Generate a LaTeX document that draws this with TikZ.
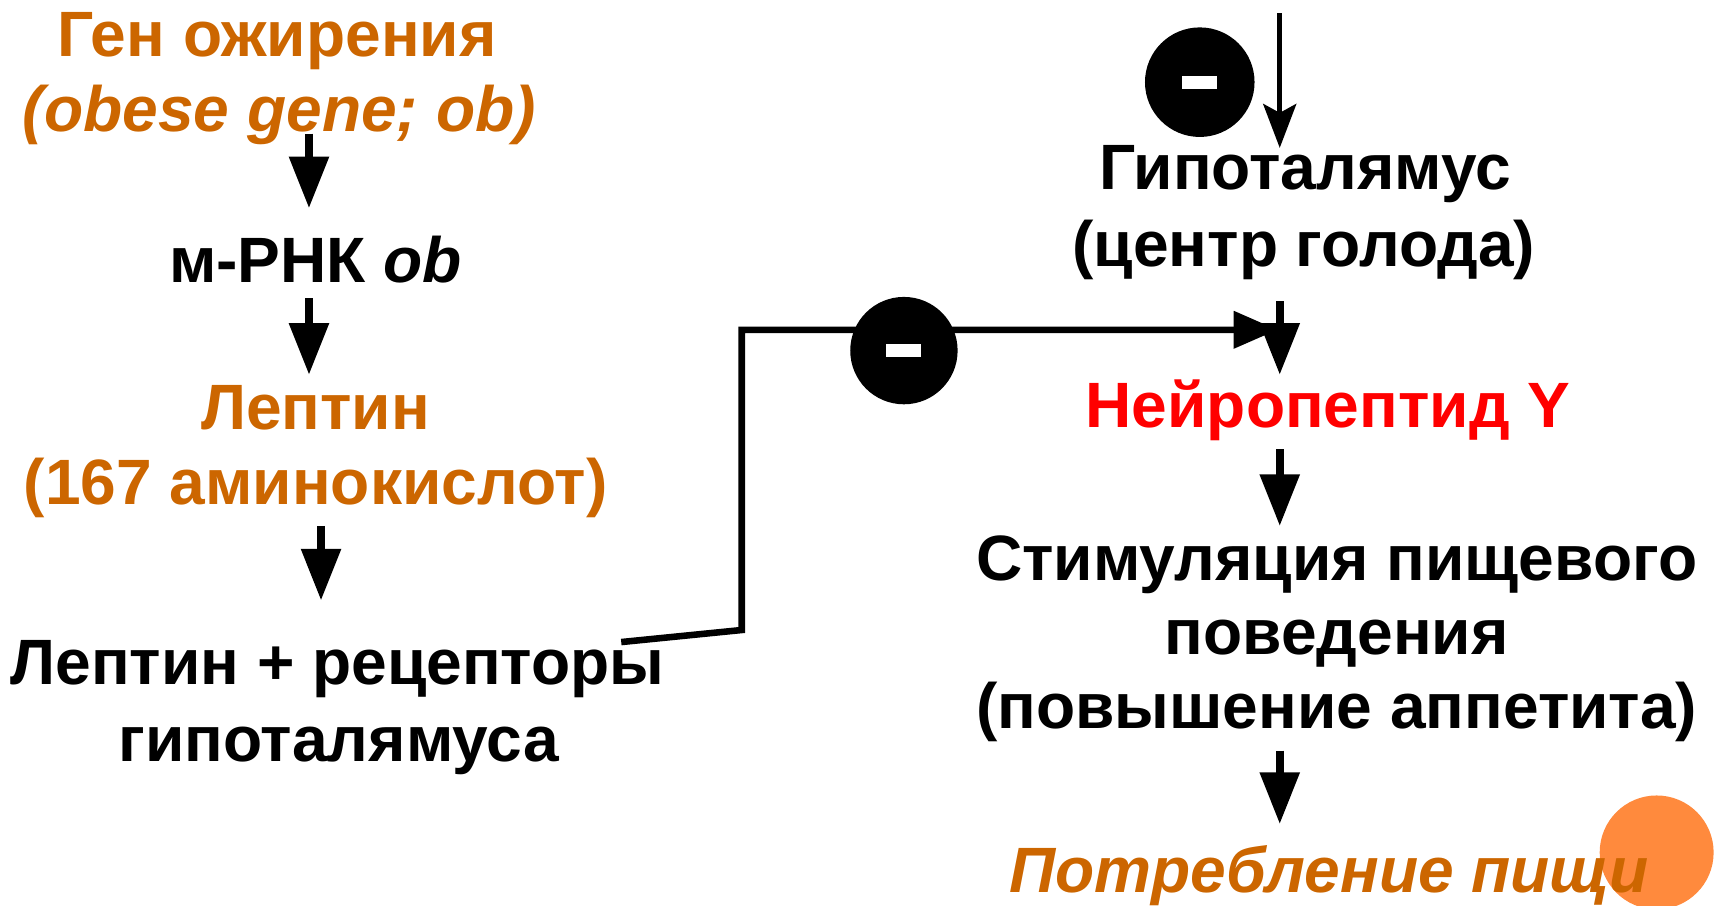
\documentclass[tikz,border=0pt]{standalone}
\usepackage{fontspec}
\setmainfont{Liberation Sans}
\usetikzlibrary{arrows.meta}
\definecolor{obor}{HTML}{CC6600}
\definecolor{dotor}{HTML}{FF8A3D}
\definecolor{nred}{HTML}{FF0000}
\begin{document}
\begin{tikzpicture}[x=1pt,y=-1pt,
  txt/.style={font=\fontsize{58.5}{68}\selectfont\bfseries, inner sep=0pt, anchor=base},
  flow/.style={line width=7pt, -{Triangle[width=35pt,length=47pt]}},
  thinflow/.style={line width=5pt, -{Stealth[width=30pt,length=40pt,inset=8pt]}},
  fback/.style={line width=6pt, line join=miter, -{Triangle[width=33pt,length=40pt]}},
  minuscirc/.style={circle, fill=black, inner sep=0pt, minimum size=#1},
  minuscirc/.default=98pt]
\useasboundingbox (0,0) rectangle (1568,826);
\fill[dotor] (1512,778) circle[radius=52pt];

% left column
\node[txt, text=obor] (g1) at (253,52) {Ген ожирения};
\node[txt, text=obor, font=\fontsize{58.5}{68}\selectfont\bfseries\itshape] (g2) at (255,120) {(obese gene; ob)};
\node[txt] (mr) at (288,258) {м-РНК \textit{ob}};
\node[txt, text=obor] (l1) at (288,392) {Лептин};
\node[txt, text=obor] (l2) at (288,460) {(167 аминокислот)};
\node[txt] (r1) at (308,625) {Лептин + рецепторы};
\node[txt] (r2) at (309,695) {гипоталямуса};

% right column
\node[txt] (h1) at (1191,173) {Гипоталямус};
\node[txt] (h2) at (1190,243) {(центр голода)};
\node[txt, text=nred] (np) at (1212,390) {Нейропептид Y};
\node[txt] (s1) at (1220,530) {Стимуляция пищевого};
\node[txt] (s2) at (1220,597) {поведения};
\node[txt] (s3) at (1220,665) {(повышение аппетита)};
\node[txt, text=obor, font=\fontsize{58.5}{68}\selectfont\bfseries\itshape] (pp) at (1213,815) {Потребление пищи};

% arrow end points
\coordinate (a1s) at (282,122); \coordinate (a1e) at (282,190);
\coordinate (a2s) at (282,272); \coordinate (a2e) at (282,342);
\coordinate (a3s) at (293,480); \coordinate (a3e) at (293,548);
\coordinate (b1s) at (1168,275); \coordinate (b1e) at (1168,342);
\coordinate (b2s) at (1168,410); \coordinate (b2e) at (1168,480);
\coordinate (b3s) at (1168,685); \coordinate (b3e) at (1168,752);
\coordinate (tops) at (1168,12); \coordinate (tope) at (1168,135);
\coordinate (fs) at (567,586); \coordinate (fj1) at (677,575);
\coordinate (fj2) at (677,301); \coordinate (fe) at (1166,301);

\draw[flow] (a1s) -- (a1e);
\draw[flow] (a2s) -- (a2e);
\draw[flow] (a3s) -- (a3e);
\draw[flow] (b1s) -- (b1e);
\draw[flow] (b2s) -- (b2e);
\draw[flow] (b3s) -- (b3e);
\draw[thinflow] (tops) -- (tope);
\draw[fback] (fs) -- (fj1) -- (fj2) -- (fe);

% inhibition marks
\node[minuscirc] (m1) at (825,320) {};
\fill[white] ([xshift=-16pt,yshift=-6pt]m1.center) rectangle ([xshift=16pt,yshift=6pt]m1.center);
\node[minuscirc=100pt] (m2) at (1095,75) {};
\fill[white] ([xshift=-16pt,yshift=-6pt]m2.center) rectangle ([xshift=16pt,yshift=6pt]m2.center);
\end{tikzpicture}
\end{document}
